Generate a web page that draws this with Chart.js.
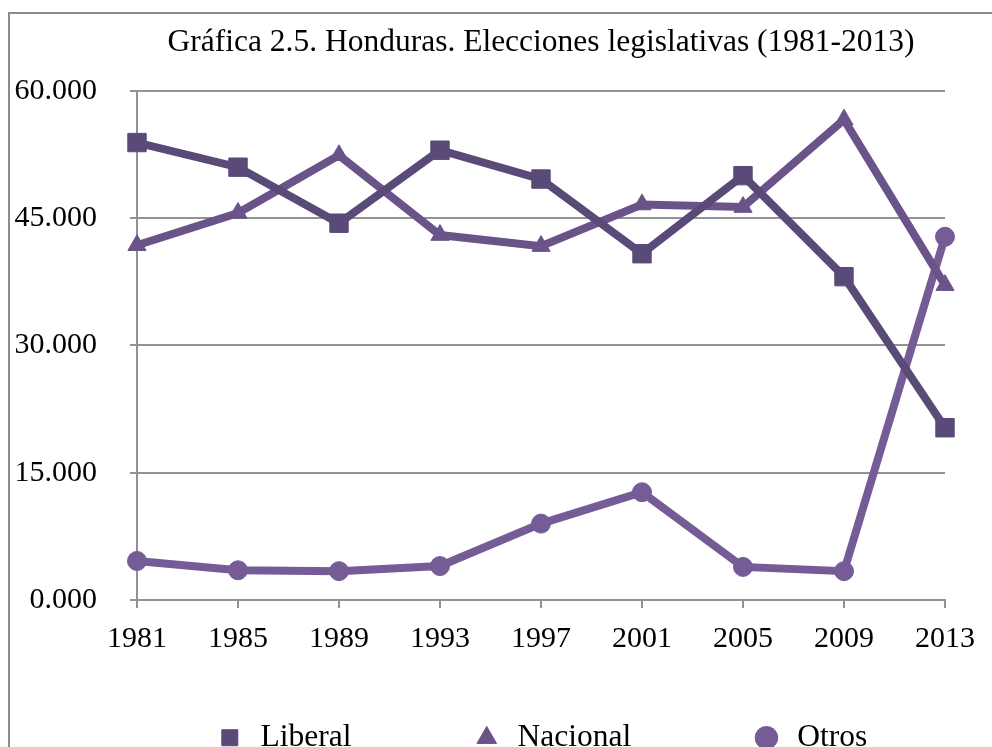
<!DOCTYPE html>
<html>
<head>
<meta charset="utf-8">
<script src="https://cdn.jsdelivr.net/npm/chart.js@4.4.1/dist/chart.umd.min.js"></script>
<style>
    body { margin: 0; background: #fff; }
    #frame {
        position: absolute; left: 8px; top: 12px; width: 1100px; height: 900px;
        border-left: 2px solid #8c8c8c; border-top: 2px solid #8c8c8c;
    }
    #wrap { position: absolute; left: 0; top: 0; width: 992px; height: 747px; }
</style>
</head>
<body>
<div id="frame"></div>
<div id="wrap"><canvas id="chart"></canvas></div>
<script>
const years = ['1981', '1985', '1989', '1993', '1997', '2001', '2005', '2009', '2013'];
const liberal = [53.9, 51.0, 44.4, 53.0, 49.6, 40.8, 50.0, 38.1, 20.3];
const nacional = [41.8, 45.6, 52.4, 43.0, 41.7, 46.6, 46.3, 56.6, 37.1];
const otros = [4.6, 3.5, 3.4, 4.0, 9.0, 12.7, 3.9, 3.4, 42.8];
const yTicks = [0, 15, 30, 45, 60];

const serif = '"Liberation Serif", "Times New Roman", serif';
const gridGray = '#929292';

function series(label, data, color, style, radius) {
    return {
        label: label,
        data: data,
        borderColor: color,
        backgroundColor: color,
        borderWidth: 8,
        pointStyle: style,
        pointRadius: radius,
        pointHoverRadius: radius,
        pointBorderWidth: 1,
        pointBackgroundColor: color,
        pointBorderColor: color,
        tension: 0
    };
}

new Chart(document.getElementById('chart'), {
    type: 'line',
    data: {
        labels: years,
        datasets: [
            series('Liberal', liberal, '#5a4a78', 'rect', 13),
            series('Nacional', nacional, '#6a5388', 'triangle', 10.5),
            series('Otros', otros, '#765c97', 'circle', 9.5)
        ]
    },
    options: {
        responsive: true,
        maintainAspectRatio: false,
        animation: false,
        layout: { padding: { left: 0, right: 47, top: 0, bottom: 0 } },
        scales: {
            x: {
                grid: { drawOnChartArea: false, drawTicks: true, tickLength: 8, color: gridGray, lineWidth: 2 },
                border: { color: gridGray, width: 2 },
                ticks: { color: '#000', font: { family: serif, size: 30 }, padding: 13, maxRotation: 0 },
                afterFit: (scale) => { scale.height = 112; }
            },
            y: {
                min: 0,
                max: 60,
                afterBuildTicks: (scale) => { scale.ticks = yTicks.map(v => ({ value: v })); },
                grid: { color: gridGray, lineWidth: 2, tickLength: 7 },
                border: { color: gridGray, width: 2 },
                ticks: {
                    color: '#000',
                    font: { family: serif, size: 30 },
                    padding: 33,
                    callback: (v) => Number(v).toFixed(3)
                },
                afterFit: (scale) => { scale.width = 137; }
            }
        },
        plugins: {
            title: {
                display: true,
                fullSize: false, // centre over the plot, not the canvas
                text: 'Gráfica 2.5. Honduras. Elecciones legislativas (1981-2013)',
                color: '#000',
                font: { family: serif, size: 31.5, weight: 'normal' },
                padding: { top: 24, bottom: 29 }
            },
            legend: {
                position: 'bottom',
                fullSize: false,
                maxHeight: 35,
                labels: {
                    usePointStyle: true,
                    boxHeight: 16,
                    boxWidth: 30,
                    padding: 10,
                    color: '#000',
                    font: { family: serif, size: 31.5 },
                    // wide gaps between entries like the original
                    generateLabels: (chart) => {
                        const items = Chart.defaults.plugins.legend.labels.generateLabels(chart);
                        items.forEach((it, i) => {
                            if (i < items.length - 1) it.text = it.text + ' '.repeat(14);
                        });
                        return items;
                    }
                }
            },
            tooltip: { enabled: false }
        }
    }
});
</script>
</body>
</html>
